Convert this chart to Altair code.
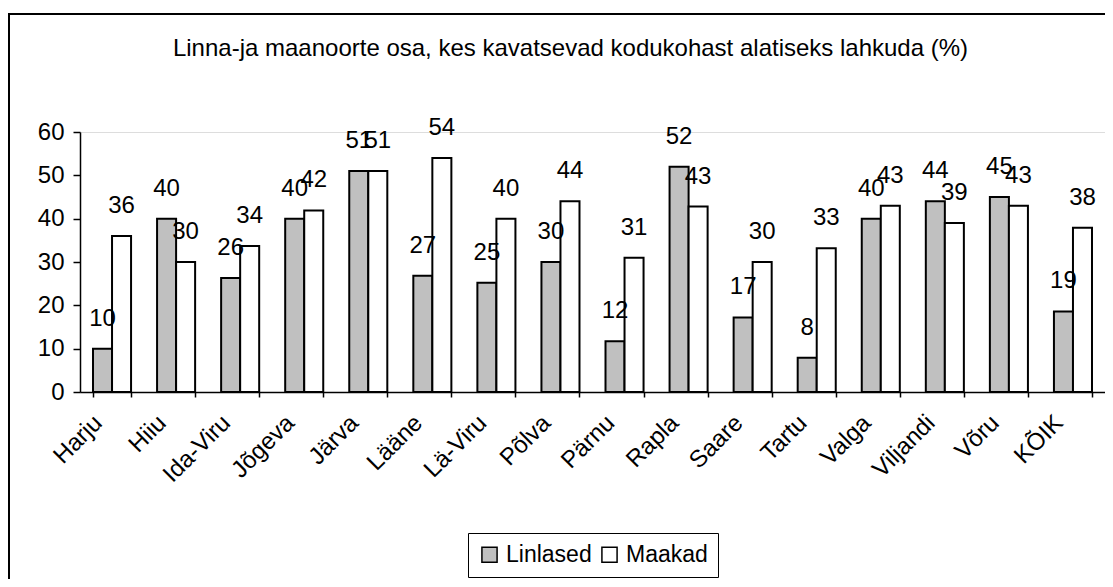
import altair as alt
import pandas as pd

categories = ["Harju", "Hiiu", "Ida-Viru", "Jõgeva", "Järva", "Lääne", "Lä-Viru", "Põlva",
              "Pärnu", "Rapla", "Saare", "Tartu", "Valga", "Viljandi", "Võru", "KÕIK"]
linlased = [10, 40, 26.3, 40, 51, 26.8, 25.2, 30, 11.7, 52, 17.2, 7.9, 40, 44, 45, 18.6]
maakad = [36, 30, 33.7, 41.9, 51, 54, 40, 44, 31, 42.8, 30, 33.2, 43, 39, 43, 37.9]
series = ["Linlased", "Maakad"]
colors = ["#c0c0c0", "#ffffff"]
y_ticks = [0, 10, 20, 30, 40, 50, 60]
title_text = "Linna-ja maanoorte osa, kes kavatsevad kodukohast alatiseks lahkuda (%)"

rows = []
for i, c in enumerate(categories):
    rows.append({"kategooria": c, "grupp": series[0], "vaartus": linlased[i]})
    rows.append({"kategooria": c, "grupp": series[1], "vaartus": maakad[i]})
df = pd.DataFrame(rows)

FONT = "Liberation Sans"
FS = 24

x_enc = alt.X("kategooria:N", sort=categories,
              scale=alt.Scale(paddingInner=0.406, paddingOuter=0.203),
              axis=alt.Axis(title=None, labelAngle=-45, labelAlign="right", labelBaseline="middle",
                            labelFontSize=FS, labelFont=FONT, labelColor="black",
                            tickBand="extent", tickSize=5, tickColor="black", tickWidth=1.5,
                            domainColor="black", domainWidth=1.5,
                            labelPadding=22, labelOffset=-14))
y_enc = alt.Y("vaartus:Q", scale=alt.Scale(domain=[0, 60], nice=False),
              axis=alt.Axis(title=None, values=y_ticks, grid=False, labelFontSize=FS, labelFont=FONT,
                            labelColor="black", tickSize=7, tickColor="black", tickWidth=1.5,
                            domainColor="black", domainWidth=1.5, labelPadding=9))
xoff = alt.XOffset("grupp:N", sort=series, scale=alt.Scale(paddingInner=0, paddingOuter=0))

bars = alt.Chart(df).mark_bar(stroke="black", strokeWidth=2).encode(
    x=x_enc, y=y_enc, xOffset=xoff,
    color=alt.Color("grupp:N", sort=series,
                    scale=alt.Scale(domain=series, range=colors),
                    legend=alt.Legend(title=None, orient="none", legendX=388, legendY=401,
                                      direction="horizontal", symbolType="square", symbolSize=230,
                                      symbolStrokeColor="black", symbolStrokeWidth=1.5,
                                      labelFontSize=23, labelFont=FONT, labelColor="black",
                                      labelOffset=5, columnPadding=6, padding=10,
                                      strokeColor="black", fillColor="white")),
)

labels = alt.Chart(df).mark_text(fontSize=FS, font=FONT, color="black", baseline="middle", dy=-30).encode(
    x=alt.X("kategooria:N", sort=categories), y="vaartus:Q", xOffset=xoff,
    text=alt.Text("vaartus:Q", format=".0f"),
)

frame = alt.Chart(df).mark_rect(fill=None, stroke="black", strokeWidth=1.5).encode(
    x=alt.value(-71), x2=alt.value(1100), y=alt.value(-118), y2=alt.value(520)
)

chart = alt.layer(frame, bars, labels).properties(
    width=1025, height=260,
    title=alt.TitleParams(title_text, fontSize=24, font=FONT, fontWeight="normal", color="black",
                          anchor="middle", offset=-48, dx=-22),
    autosize=alt.AutoSizeParams(type="none"),
    padding={"left": 72, "top": 124, "right": 0, "bottom": 187},
).configure_view(stroke="#808080", strokeWidth=2).configure(background="white")

chart.save("out.html", embed_options={"renderer": "svg", "actions": False})
